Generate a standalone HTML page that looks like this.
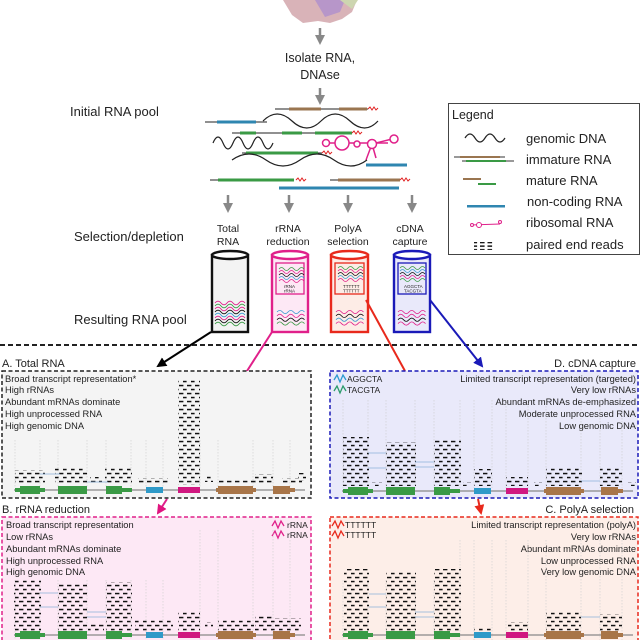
<!DOCTYPE html>
<html><head><meta charset="utf-8"><style>
html,body{margin:0;padding:0;background:#fff}
svg{display:block}
text{font-family:"Liberation Sans",sans-serif;fill:#222}
</style></head><body>
<svg width="640" height="640" viewBox="0 0 640 640" xmlns="http://www.w3.org/2000/svg">
<defs>
<pattern id="rd" width="7.5" height="3.6" patternUnits="userSpaceOnUse">
<rect x="0" y="0.6" width="4.6" height="1.5" fill="#111"/>
</pattern>
<pattern id="rd2" x="3" width="8" height="8" patternUnits="userSpaceOnUse">
<rect x="0" y="0.8" width="4.4" height="1.5" fill="#111"/>
<rect x="4" y="4.8" width="3.6" height="1.5" fill="#111"/>
</pattern>
<marker id="ak" viewBox="0 0 10 10" refX="8" refY="5" markerWidth="5" markerHeight="5" orient="auto"><path d="M0,0L10,5L0,10z" fill="#000"/></marker>
<marker id="ap" viewBox="0 0 10 10" refX="8" refY="5" markerWidth="5" markerHeight="5" orient="auto"><path d="M0,0L10,5L0,10z" fill="#e0157f"/></marker>
<marker id="ar" viewBox="0 0 10 10" refX="8" refY="5" markerWidth="5" markerHeight="5" orient="auto"><path d="M0,0L10,5L0,10z" fill="#e8291c"/></marker>
<marker id="ab" viewBox="0 0 10 10" refX="8" refY="5" markerWidth="5" markerHeight="5" orient="auto"><path d="M0,0L10,5L0,10z" fill="#1a1ab8"/></marker>
<marker id="ag" viewBox="0 0 10 10" refX="5" refY="5" markerWidth="4" markerHeight="4" orient="auto"><path d="M0,0L10,5L0,10z" fill="#888"/></marker>
<g id="wv"><path d="M0,0 q5,-6 10,0 t10,0 t10,0 t10,0 t10,0" fill="none" stroke-width="1.5"/></g>
</defs>

<!-- top cell image -->
<path d="M283,0 L357,0 L352,12 L342,19 L330,23 L318,21 L303,23 L292,15 Z" fill="#d9b3b8"/>
<path d="M315,0 L345,0 L340,12 L325,17 Z" fill="#b796c9"/>
<path d="M340,0 L358,0 L352,9 Z" fill="#cdd5b0"/>

<!-- gray arrows -->
<g stroke="#888" stroke-width="2.5" fill="none">
<line x1="320" y1="28" x2="320" y2="40" marker-end="url(#ag)"/>
<line x1="320" y1="88" x2="320" y2="100" marker-end="url(#ag)"/>
<line x1="228" y1="195" x2="228" y2="208" marker-end="url(#ag)"/>
<line x1="289" y1="195" x2="289" y2="208" marker-end="url(#ag)"/>
<line x1="348" y1="195" x2="348" y2="208" marker-end="url(#ag)"/>
<line x1="412" y1="195" x2="412" y2="208" marker-end="url(#ag)"/>
</g>
<text x="320" y="62" font-size="12.5" text-anchor="middle">Isolate RNA,</text>
<text x="320" y="79" font-size="12.5" text-anchor="middle">DNAse</text>
<text x="70" y="116" font-size="13">Initial RNA pool</text>
<text x="74" y="241" font-size="13">Selection/depletion</text>
<text x="74" y="324" font-size="13">Resulting RNA pool</text>
<g font-size="10.5" text-anchor="middle">
<text x="228" y="232">Total</text><text x="228" y="245">RNA</text>
<text x="288" y="232">rRNA</text><text x="288" y="245">reduction</text>
<text x="348" y="232">PolyA</text><text x="348" y="245">selection</text>
<text x="410" y="232">cDNA</text><text x="410" y="245">capture</text>
</g>

<!-- initial pool molecules -->
<g fill="none">
<line x1="275" y1="109" x2="368" y2="109" stroke="#222"/>
<rect x="289" y="107.5" width="32" height="3" fill="#9a7550"/><rect x="339" y="107.5" width="28" height="3" fill="#9a7550"/>
<path d="M368,109 l2,-2 l2,3 l2,-3 l2,3 l2,-2" stroke="#e02020"/>
<line x1="205" y1="122" x2="267" y2="122" stroke="#222"/>
<rect x="217" y="120.5" width="39" height="3" fill="#2f86b0"/>
<path d="M263,121 q14,-14 29,0 t29,0 t29,0 t28,0" stroke="#222" stroke-width="1.2"/>
<line x1="232" y1="133" x2="352" y2="133" stroke="#222"/>
<rect x="240" y="131.5" width="16" height="3" fill="#3a9a45"/><rect x="282" y="131.5" width="20" height="3" fill="#3a9a45"/><rect x="315" y="131.5" width="37" height="3" fill="#3a9a45"/>
<path d="M352,133 l2,-2 l2,3 l2,-3 l2,3 l2,-2" stroke="#e02020"/>
<path d="M213,143 q5,-12 10,0 t10,0 t10,0 t10,0 t10,0 t10,0" stroke="#222" stroke-width="1.2"/>
<g stroke="#e0208a" stroke-width="1.5">
<line x1="330" y1="143" x2="388" y2="143"/><line x1="372" y1="144" x2="392" y2="139"/>
<line x1="372" y1="144" x2="366" y2="160"/><line x1="372" y1="144" x2="376" y2="158"/>
<circle cx="326" cy="143" r="3.5" fill="#fff"/><circle cx="342" cy="143" r="7" fill="#fff"/>
<circle cx="357" cy="144" r="3" fill="#fff"/><circle cx="372" cy="144" r="4.5" fill="#fff"/><circle cx="394" cy="139" r="4" fill="#fff"/>
</g>
<line x1="242" y1="153" x2="322" y2="153" stroke="#222"/>
<rect x="246" y="151.5" width="72" height="3" fill="#3a9a45"/>
<path d="M322,153 l2,-2 l2,3 l2,-3 l2,3 l2,-2" stroke="#e02020"/>
<path d="M232,160 q17,-12 34,0 t34,0 t34,0 t33,0" stroke="#222" stroke-width="1.2"/>
<rect x="366" y="163.5" width="41" height="3" fill="#2f86b0"/>
<line x1="210" y1="180" x2="294" y2="180" stroke="#222"/>
<rect x="218" y="178.5" width="76" height="3" fill="#3a9a45"/>
<path d="M296,180 l2,-2 l2,3 l2,-3 l2,3 l2,-2" stroke="#e02020"/>
<line x1="330" y1="180" x2="400" y2="180" stroke="#222"/>
<rect x="338" y="178.5" width="62" height="3" fill="#9a7550"/>
<path d="M400,180 l2,-2 l2,3 l2,-3 l2,3 l2,-2" stroke="#e02020"/>
<rect x="279" y="186.5" width="120" height="3" fill="#2f86b0"/>
</g>

<!-- legend -->
<rect x="448.5" y="103.5" width="191" height="151" fill="#fff" stroke="#444"/>
<text x="452" y="119" font-size="12.5">Legend</text>
<g font-size="13">
<text x="526" y="143">genomic DNA</text><text x="526" y="164">immature RNA</text>
<text x="526" y="185">mature RNA</text><text x="527" y="206">non-coding RNA</text>
<text x="526" y="227">ribosomal RNA</text><text x="526" y="249">paired end reads</text>
</g>
<path d="M465,138 q5,-8 10,0 t10,0 t10,0 t10,0" fill="none" stroke="#222" stroke-width="1.2"/>
<line x1="454" y1="157" x2="505" y2="157" stroke="#333"/><rect x="460" y="156" width="40" height="2" fill="#9a7550"/>
<line x1="462" y1="161" x2="514" y2="161" stroke="#333"/><rect x="466" y="160" width="40" height="2" fill="#3a9a45"/>
<rect x="463" y="178" width="18" height="2" fill="#9a7550"/><rect x="478" y="183" width="18" height="2" fill="#3a9a45"/>
<rect x="467" y="205" width="38" height="2.5" fill="#2f86b0"/>
<g stroke="#e0208a" fill="#fff"><line x1="470" y1="225" x2="500" y2="224"/><circle cx="472" cy="225" r="1.5"/><circle cx="479" cy="225" r="2.5"/><circle cx="500" cy="222" r="1.5"/></g>
<rect x="474" y="242" width="20" height="8" fill="url(#rd)"/>

<!-- tubes -->
<g stroke-width="2.4">
<rect x="212" y="255" width="36" height="77" fill="#f3f3f3" stroke="#111"/>
<ellipse cx="230" cy="255" rx="18" ry="4" fill="#fff" stroke="#111"/>
<rect x="272" y="255" width="36" height="77" fill="#fde8f5" stroke="#e0208a"/>
<ellipse cx="290" cy="255" rx="18" ry="4" fill="#fff" stroke="#e0208a"/>
<rect x="331" y="255" width="37" height="77" fill="#fdece6" stroke="#e8291c"/>
<ellipse cx="349.5" cy="255" rx="18.5" ry="4" fill="#fff" stroke="#e8291c"/>
<rect x="394" y="255" width="36" height="77" fill="#e9e9fa" stroke="#1a1ab8"/>
<ellipse cx="412" cy="255" rx="18" ry="4" fill="#fff" stroke="#1a1ab8"/>
</g>
<g fill="none" stroke-width="1.3">
<rect x="276" y="263" width="28" height="31" stroke="#e0208a"/>
<rect x="335" y="263" width="29" height="31" stroke="#e8291c"/>
<rect x="398" y="263" width="28" height="31" stroke="#1a1ab8"/>
</g>
<g fill="none">
<g transform="translate(215,303) scale(0.6)"><use href="#wv" stroke="#e0208a"/><use href="#wv" y="5" stroke="#3a9a45"/><use href="#wv" y="10" stroke="#e0208a"/><use href="#wv" y="15" stroke="#111"/><use href="#wv" y="20" stroke="#3a9ad0"/><use href="#wv" y="25" stroke="#e0208a"/><use href="#wv" y="30" stroke="#111"/><use href="#wv" y="35" stroke="#3a9a45"/></g>
<g transform="translate(277,312) scale(0.55)"><use href="#wv" stroke="#3a9ad0"/><use href="#wv" y="7" stroke="#e0208a"/><use href="#wv" y="14" stroke="#111"/><use href="#wv" y="21" stroke="#3a9a45"/></g>
<g transform="translate(279,269) scale(0.5)"><use href="#wv" stroke="#3a9a45"/><use href="#wv" y="6" stroke="#e0208a"/><use href="#wv" y="12" stroke="#111"/><use href="#wv" y="18" stroke="#3a9ad0"/><use href="#wv" y="24" stroke="#e0208a"/></g>
<g transform="translate(336,312) scale(0.55)"><use href="#wv" stroke="#e0208a"/><use href="#wv" y="7" stroke="#111"/><use href="#wv" y="14" stroke="#3a9ad0"/><use href="#wv" y="21" stroke="#e0208a"/></g>
<g transform="translate(338,268) scale(0.5)"><use href="#wv" stroke="#3a9a45"/><use href="#wv" y="6" stroke="#e0208a"/><use href="#wv" y="12" stroke="#111"/><use href="#wv" y="18" stroke="#3a9ad0"/><use href="#wv" y="24" stroke="#e0208a"/></g>
<g transform="translate(398,312) scale(0.55)"><use href="#wv" stroke="#e0208a"/><use href="#wv" y="7" stroke="#e0208a"/><use href="#wv" y="14" stroke="#111"/><use href="#wv" y="21" stroke="#e0208a"/></g>
<g transform="translate(400,268) scale(0.5)"><use href="#wv" stroke="#3a9a45"/><use href="#wv" y="6" stroke="#3a9ad0"/><use href="#wv" y="12" stroke="#111"/><use href="#wv" y="18" stroke="#e0208a"/><use href="#wv" y="24" stroke="#3a9a45"/></g>
</g>
<g font-size="4.5"><text x="284" y="288" fill="#e0208a">rRNA</text><text x="284" y="292.5" fill="#e0208a">rRNA</text>
<text x="343" y="288" fill="#e8291c">TTTTTT</text><text x="343" y="292.5" fill="#e8291c">TTTTTT</text>
<text x="404" y="288" fill="#2a9ad0">AGGCTA</text><text x="404" y="292.5" fill="#3a9a45">TACGTA</text></g>

<!-- connectors -->
<line x1="0" y1="345" x2="640" y2="345" stroke="#222" stroke-width="2" stroke-dasharray="5,3"/>
<line x1="211" y1="332" x2="158" y2="366" stroke="#000" stroke-width="2" marker-end="url(#ak)"/>
<line x1="272" y1="332" x2="247" y2="371" stroke="#e0208a" stroke-width="2"/>
<line x1="366" y1="300" x2="405" y2="371" stroke="#e8291c" stroke-width="2"/>
<line x1="430" y1="300" x2="482" y2="366" stroke="#1a1ab8" stroke-width="2" marker-end="url(#ab)"/>
<line x1="167" y1="499" x2="158" y2="513" stroke="#e0208a" stroke-width="2" marker-end="url(#ap)"/>
<line x1="478" y1="499" x2="481" y2="513" stroke="#e8291c" stroke-width="2" marker-end="url(#ar)"/>

<!-- panel boxes -->
<rect x="2" y="371" width="309" height="127" fill="#f4f4f4" stroke="#222" stroke-width="1.5" stroke-dasharray="4,2.5"/>
<rect x="330" y="371" width="308" height="127" fill="#e9e9fa" stroke="#1a1ab8" stroke-width="1.5" stroke-dasharray="4,2.5"/>
<rect x="2" y="517" width="309" height="130" fill="#fde8f5" stroke="#e0208a" stroke-width="1.5" stroke-dasharray="4,2.5"/>
<rect x="330" y="517" width="308" height="130" fill="#fdeee8" stroke="#e8291c" stroke-width="1.5" stroke-dasharray="4,2.5"/>

<g font-size="11">
<text x="2" y="367">A. Total RNA</text>
<text x="636" y="367" text-anchor="end">D. cDNA capture</text>
<text x="2" y="513">B. rRNA reduction</text>
<text x="634" y="513" text-anchor="end">C. PolyA selection</text>
</g>
<g font-size="9.3">
<text x="5" y="382">Broad transcript representation*</text><text x="5" y="393">High rRNAs</text><text x="5" y="405">Abundant mRNAs dominate</text><text x="5" y="417">High unprocessed RNA</text><text x="5" y="429">High genomic DNA</text>
<text x="636" y="382" text-anchor="end">Limited transcript representation (targeted)</text><text x="636" y="393" text-anchor="end">Very low rRNAs</text><text x="636" y="405" text-anchor="end">Abundant mRNAs de-emphasized</text><text x="636" y="417" text-anchor="end">Moderate unprocessed RNA</text><text x="636" y="429" text-anchor="end">Low genomic DNA</text>
<text x="6" y="528">Broad transcript representation</text><text x="6" y="540">Low rRNAs</text><text x="6" y="552">Abundant mRNAs dominate</text><text x="6" y="564">High unprocessed RNA</text><text x="6" y="575">High genomic DNA</text>
<text x="636" y="528" text-anchor="end">Limited transcript representation (polyA)</text><text x="636" y="540" text-anchor="end">Very low rRNAs</text><text x="636" y="552" text-anchor="end">Abundant mRNAs dominate</text><text x="636" y="564" text-anchor="end">Low unprocessed RNA</text><text x="636" y="575" text-anchor="end">Very low genomic DNA</text>
</g>
<g font-size="8.5">
<text x="347" y="382" fill="#2a9ad0">AGGCTA</text><text x="347" y="393" fill="#2a9a6a">TACGTA</text>
<text x="287" y="528" fill="#e0208a">rRNA</text><text x="287" y="538" fill="#e0208a">rRNA</text>
<text x="345" y="528" fill="#e8291c">TTTTTT</text><text x="345" y="538" fill="#e8291c">TTTTTT</text>
</g>
<g fill="none" stroke-width="1.3">
<path d="M334,380 l3,-5 l3,7 l3,-7 l3,5" stroke="#2a9ad0"/><path d="M334,391 l3,-5 l3,7 l3,-7 l3,5" stroke="#2a9a6a"/>
<path d="M272,526 l3,-5 l3,7 l3,-7 l3,5" stroke="#e0208a"/><path d="M272,536 l3,-5 l3,7 l3,-7 l3,5" stroke="#e0208a"/>
<path d="M332,526 l3,-5 l3,7 l3,-7 l3,5" stroke="#e8291c"/><path d="M332,536 l3,-5 l3,7 l3,-7 l3,5" stroke="#e8291c"/>
</g>

<!-- dotted vertical guides -->
<g stroke="#ccc" stroke-width="0.6" stroke-dasharray="1.5,1.5">
<path d="M15,440V488M40,440V488M58,440V488M87,440V488M106,440V488M131,440V488M146,440V488M163,440V488M200,440V488M218,440V488M253,440V488M273,440V488M290,440V488"/>
<path d="M343,400V488M368,400V488M386,400V488M415,400V488M434,400V488M460,400V488M474,400V488M492,400V488M506,400V488M528,400V488M546,400V488M581,400V488M600,400V488M622,400V488"/>
<path d="M15,580V640M40,580V640M58,580V640M87,580V640M106,580V640M131,580V640M146,580V640M163,580V640M200,530V640M218,530V640M253,530V640M273,530V640M290,540V640"/>
<path d="M343,580V640M368,580V640M386,580V640M415,580V640M434,580V640M460,540V640M474,540V640M492,540V640M506,540V640M528,540V640M546,540V640M581,540V640M600,540V640M622,540V640"/>
</g>

<!-- gene tracks -->
<g id="gene">
<line x1="14" y1="490" x2="305" y2="490" stroke="#888" stroke-width="1.2"/>
<rect x="15" y="488" width="30" height="4" fill="#3a9a45"/><rect x="20" y="486" width="20" height="8" fill="#3a9a45"/>
<rect x="58" y="486" width="29" height="8" fill="#3a9a45"/>
<rect x="106" y="488" width="26" height="4" fill="#3a9a45"/><rect x="106" y="486" width="16" height="8" fill="#3a9a45"/>
<rect x="146" y="487" width="17" height="6" fill="#2f9ac8"/>
<rect x="178" y="487" width="22" height="6" fill="#d01880"/>
<rect x="216" y="488" width="40" height="4" fill="#a87548"/><rect x="218" y="486" width="35" height="8" fill="#a87548"/>
<rect x="273" y="488" width="22" height="4" fill="#a87548"/><rect x="273" y="486" width="17" height="8" fill="#a87548"/>
</g>
<use href="#gene" x="328" y="1"/>
<use href="#gene" y="145"/>
<use href="#gene" x="328" y="145"/>

<!-- reads A -->
<g fill="url(#rd2)">
<rect x="15" y="470" width="30" height="14"/><rect x="55" y="468" width="32" height="16"/><rect x="105" y="468" width="27" height="16"/>
<rect x="90" y="477" width="12" height="7"/><rect x="138" y="478" width="30" height="6"/>
<rect x="178" y="380" width="22" height="105"/><rect x="205" y="476" width="8" height="6"/>
<rect x="218" y="479" width="38" height="5"/><rect x="255" y="474" width="18" height="10"/><rect x="282" y="478" width="20" height="6"/><rect x="298" y="473" width="8" height="8"/>
</g>
<!-- reads D -->
<g fill="url(#rd2)">
<rect x="343" y="437" width="26" height="49"/><rect x="386" y="442" width="30" height="44"/><rect x="434" y="440" width="27" height="46"/>
<rect x="474" y="469" width="18" height="17"/><rect x="506" y="477" width="22" height="9"/>
<rect x="546" y="467" width="36" height="19"/><rect x="600" y="467" width="22" height="19"/>
<rect x="372" y="482" width="10" height="4"/><rect x="463" y="482" width="8" height="4"/><rect x="534" y="482" width="8" height="4"/><rect x="628" y="482" width="8" height="4"/>
</g>
<!-- reads B -->
<g fill="url(#rd2)">
<rect x="14" y="579" width="27" height="53"/><rect x="58" y="584" width="29" height="48"/><rect x="106" y="582" width="26" height="50"/>
<rect x="88" y="624" width="16" height="8"/><rect x="135" y="620" width="38" height="12"/>
<rect x="178" y="611" width="22" height="21"/><rect x="205" y="622" width="8" height="6"/>
<rect x="218" y="620" width="36" height="12"/><rect x="255" y="615" width="18" height="17"/><rect x="273" y="618" width="28" height="14"/>
</g>
<!-- reads C -->
<g fill="url(#rd2)">
<rect x="344" y="569" width="25" height="63"/><rect x="386" y="571" width="30" height="61"/><rect x="434" y="569" width="27" height="63"/>
<rect x="474" y="628" width="18" height="4"/><rect x="508" y="622" width="20" height="10"/>
<rect x="546" y="612" width="35" height="20"/><rect x="600" y="614" width="22" height="18"/>
</g>
<!-- light blue link lines -->
<g stroke="#8ab0d8" stroke-width="0.8">
<line x1="40" y1="474" x2="60" y2="474"/><line x1="87" y1="482" x2="108" y2="482"/>
<line x1="368" y1="453" x2="386" y2="453"/><line x1="368" y1="468" x2="386" y2="468"/><line x1="415" y1="462" x2="434" y2="462"/><line x1="415" y1="467" x2="434" y2="467"/><line x1="581" y1="481" x2="600" y2="481"/>
<line x1="40" y1="593" x2="58" y2="593"/><line x1="40" y1="607" x2="58" y2="607"/><line x1="87" y1="612" x2="106" y2="612"/><line x1="87" y1="617" x2="106" y2="617"/>
<line x1="369" y1="594" x2="386" y2="594"/><line x1="369" y1="607" x2="386" y2="607"/><line x1="415" y1="612" x2="434" y2="612"/><line x1="415" y1="617" x2="434" y2="617"/><line x1="581" y1="617" x2="600" y2="617"/>
</g>
</svg>
</body></html>
